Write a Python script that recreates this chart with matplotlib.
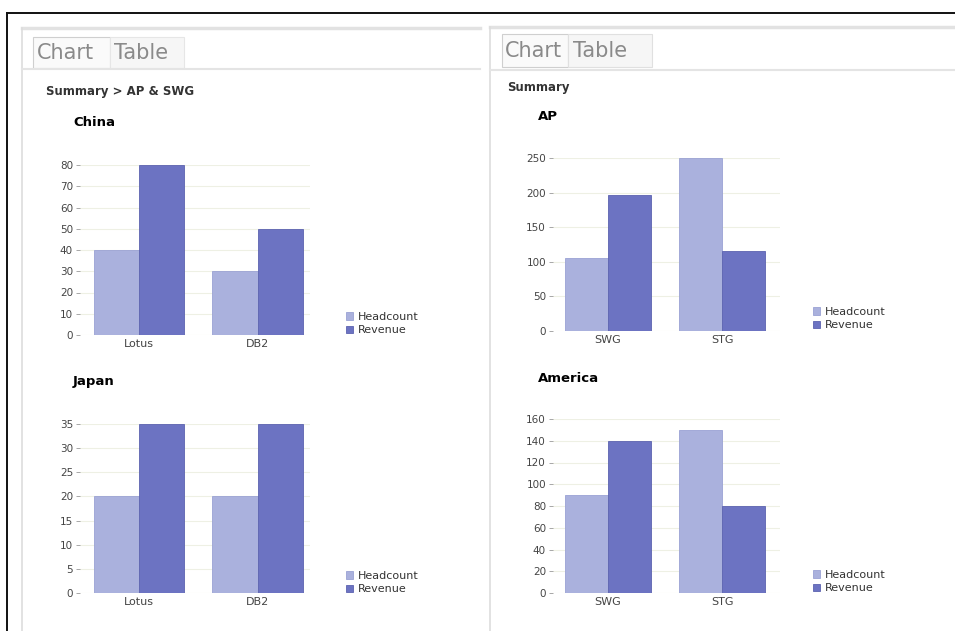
import matplotlib.pyplot as plt
from matplotlib.patches import Rectangle
import numpy as np

# data
series = ["Headcount", "Revenue"]

china_cats = ["Lotus", "DB2"]
china_headcount = [40, 30]
china_revenue = [80, 50]
china_ticks = [0, 10, 20, 30, 40, 50, 60, 70, 80]

japan_cats = ["Lotus", "DB2"]
japan_headcount = [20, 20]
japan_revenue = [35, 35]
japan_ticks = [0, 5, 10, 15, 20, 25, 30, 35]

ap_cats = ["SWG", "STG"]
ap_headcount = [105, 250]
ap_revenue = [196, 116]
ap_ticks = [0, 50, 100, 150, 200, 250]

america_cats = ["SWG", "STG"]
america_headcount = [90, 150]
america_revenue = [140, 80]
america_ticks = [0, 20, 40, 60, 80, 100, 120, 140, 160]

HC_COLOR = "#aab1dd"
REV_COLOR = "#6c73c2"

W, H = 955, 631
fig = plt.figure(figsize=(W / 100, H / 100), dpi=100)
fig.patch.set_facecolor("white")


def fx(x):
    return x / W


def fy(y):
    return 1 - y / H


def add_line(x0, y0, x1, y1, color, lw):
    fig.add_artist(plt.Line2D([fx(x0), fx(x1)], [fy(y0), fy(y1)], color=color, lw=lw))


def add_box(x0, y0, x1, y1, ec, fc="none", lw=0.8):
    fig.add_artist(Rectangle((fx(x0), fy(y1)), fx(x1) - fx(x0), fy(y0) - fy(y1),
                             transform=fig.transFigure, ec=ec, fc=fc, lw=lw))


def bar_panel(title, cats, hc, rev, ticks, left, right, top, bottom, c0, spacing,
              title_x, title_y, leg_x, leg_y):
    ax = fig.add_axes([fx(left), fy(bottom), fx(right) - fx(left), fy(top) - fy(bottom)])
    x = np.arange(len(cats))
    w = 0.38
    ax.bar(x - w / 2, hc, w, color=HC_COLOR, edgecolor="#9aa2d4", lw=0.6, label=series[0], zorder=2)
    ax.bar(x + w / 2, rev, w, color=REV_COLOR, edgecolor="#5c63b0", lw=0.6, label=series[1], zorder=2)
    ax.set_xlim((left - c0) / spacing, (right - c0) / spacing)
    ax.set_ylim(0, ticks[-1])
    ax.set_yticks(ticks)
    ax.set_xticks(x)
    ax.set_xticklabels(cats)
    ax.yaxis.grid(True, color="#eef0e4", lw=0.8, zorder=0)
    for s in ax.spines.values():
        s.set_visible(False)
    ax.tick_params(axis="y", length=3, width=0.6, color="#999999", labelsize=7.5,
                   labelcolor="#444444", pad=2)
    ax.tick_params(axis="x", length=0, labelsize=8, labelcolor="#444444", pad=3)
    ax.patch.set_alpha(0)
    fig.text(fx(title_x), fy(title_y), title, fontsize=9.5, fontweight="bold",
             va="center", ha="left")
    ax.legend(loc="upper left", bbox_to_anchor=(fx(leg_x), fy(leg_y)),
              bbox_transform=fig.transFigure, frameon=False, fontsize=8,
              handlelength=0.65, handleheight=0.65, handletextpad=0.4,
              labelspacing=0.3, borderpad=0, borderaxespad=0,
              labelcolor="#333333")
    return ax


# outer screen border
add_line(7, 13, W, 13, "#111111", 1.4)
add_line(7, 13, 7, H, "#111111", 1.4)

# left panel frame
add_line(22, 28, 480, 28, "#e2e2e2", 2.5)
add_line(22, 28, 22, H, "#dddddd", 1.2)
add_line(22, 69, 480, 69, "#e4e4e4", 1.5)
add_box(33, 37, 110, 68, "#cfcfcf", "#fafafa")
add_box(110, 37, 184, 68, "#e6e6e6", "#f6f6f6")
fig.text(fx(37), fy(53), "Chart", fontsize=15, color="#8a8a8a", va="center")
fig.text(fx(114), fy(53), "Table", fontsize=15, color="#8a8a8a", va="center")
fig.text(fx(46), fy(91), "Summary > AP & SWG", fontsize=8.5, fontweight="bold",
         color="#333333", va="center")

# right panel frame
add_line(490, 27, W, 27, "#e2e2e2", 2.5)
add_line(490, 27, 490, H, "#dddddd", 1.2)
add_line(490, 70, W, 70, "#e4e4e4", 1.5)
add_box(502, 34, 568, 67, "#cfcfcf", "#fafafa")
add_box(568, 34, 652, 67, "#e0e0e0", "#f6f6f6")
fig.text(fx(505), fy(51), "Chart", fontsize=15, color="#8a8a8a", va="center")
fig.text(fx(573), fy(51), "Table", fontsize=15, color="#8a8a8a", va="center")
fig.text(fx(507), fy(87), "Summary", fontsize=8.5, fontweight="bold",
         color="#333333", va="center")

bar_panel("China", china_cats, china_headcount, china_revenue, china_ticks,
          80, 310, 165, 335, 139, 118.5, 73, 122, 346, 312)
bar_panel("Japan", japan_cats, japan_headcount, japan_revenue, japan_ticks,
          80, 310, 424, 593, 139, 118.5, 73, 382, 346, 571)
bar_panel("AP", ap_cats, ap_headcount, ap_revenue, ap_ticks,
          553, 780, 158, 331, 608, 114, 538, 117, 813, 307)
bar_panel("America", america_cats, america_headcount, america_revenue, america_ticks,
          553, 780, 419, 593, 608, 114, 538, 378, 813, 570)

fig.savefig("out.png", dpi=100)
